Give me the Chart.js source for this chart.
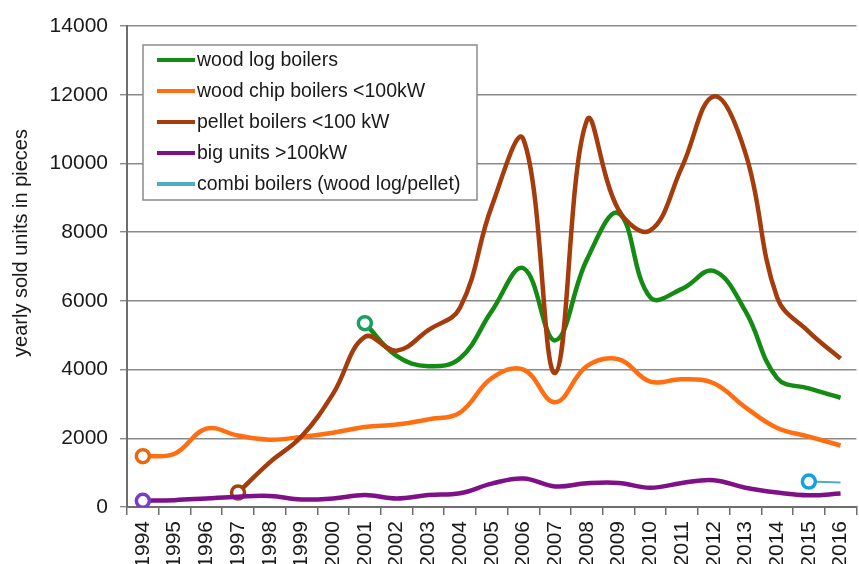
<!DOCTYPE html>
<html>
<head>
<meta charset="utf-8">
<script src="https://cdn.jsdelivr.net/npm/chart.js@4/dist/chart.umd.min.js"></script>
<style>
  html, body { margin: 0; padding: 0; background: #fff; overflow: hidden; width: 859px; height: 564px; }
  #wrap { position: absolute; left: 0; top: 0; width: 872px; height: 580px; }
</style>
</head>
<body>
<div id="wrap"><canvas id="c" width="872" height="580"></canvas></div>
<script>
// ---- data ----
const years = ['1994','1995','1996','1997','1998','1999','2000','2001','2002','2003','2004','2005',
               '2006','2007','2008','2009','2010','2011','2012','2013','2014','2015','2016'];
const woodLog  = [null,null,null,null,null,null,null,5350,4400,4100,4330,5700,6950,4850,7200,8550,6100,6350,6870,5700,3750,3450,3180];
const woodChip = [1480,1550,2280,2080,1960,2040,2160,2330,2400,2550,2750,3750,4000,3050,4100,4300,3650,3720,3600,2900,2300,2050,1790];
const pellet   = [null,null,null,420,1300,2050,3300,4950,4550,5150,5800,8750,10700,3900,11250,8650,8050,9900,11950,10300,6100,5100,4320];
const bigUnits = [180,200,250,300,320,220,250,350,250,350,400,680,830,600,690,700,560,700,780,560,420,340,390];
const combi    = [null,null,null,null,null,null,null,null,null,null,null,null,null,null,null,null,null,null,null,null,null,740,710];
const seriesNames = ['wood log boilers','wood chip boilers <100kW','pellet boilers <100 kW','big units >100kW','combi boilers (wood log/pellet)'];
const yTicks = [0,2000,4000,6000,8000,10000,12000,14000];
const yTitle = 'yearly sold units in pieces';

const FONT = "'Liberation Sans', Arial, sans-serif";
const lineColors  = ['#148c14','#ff6f12','#a43c0c','#7e1088','#4bacc6'];
const pointColors = ['#18a060','#e8680e','#a4400e','#7a3cc8','#14a0e4'];

function firstIdx(arr){ return arr.findIndex(v => v !== null); }
function mkDataset(i, data, order){
  const f = firstIdx(data);
  return {
    label: seriesNames[i],
    data: data,
    borderColor: lineColors[i],
    backgroundColor: lineColors[i],
    borderWidth: i === 4 ? 2 : 4.5,
    tension: 0.4,
    fill: false,
    spanGaps: false,
    order: order,
    pointRadius: ctx => ctx.dataIndex === f ? 6.5 : 0,
    pointBorderWidth: 3.5,
    pointBorderColor: pointColors[i],
    pointBackgroundColor: '#ffffff',
    pointHoverRadius: 0
  };
}

const legendPlugin = {
  id: 'boxLegend',
  afterDatasetsDraw(chart){
    const ctx = chart.ctx;
    ctx.save();
    const x0 = 143, y0 = 45, w = 334, h = 155;
    ctx.fillStyle = '#fff';
    ctx.fillRect(x0, y0, w, h);
    ctx.strokeStyle = '#8a8a8a';
    ctx.lineWidth = 1.5;
    ctx.strokeRect(x0, y0, w, h);
    ctx.font = '19.5px ' + FONT;
    ctx.textBaseline = 'middle';
    ctx.textAlign = 'left';
    chart.data.datasets.forEach((ds, i) => {
      const y = 60 + i * 31;
      ctx.strokeStyle = lineColors[i];
      ctx.lineWidth = 4;
      ctx.beginPath();
      ctx.moveTo(157, y);
      ctx.lineTo(195, y);
      ctx.stroke();
      ctx.fillStyle = '#1a1a1a';
      ctx.fillText(ds.label, 197, y + 1);
    });
    ctx.restore();
  }
};

const titlePlugin = {
  id: 'yTitle',
  afterDraw(chart){
    const ctx = chart.ctx;
    ctx.save();
    ctx.translate(21, 243);
    ctx.rotate(-Math.PI/2);
    ctx.font = '20px ' + FONT;
    ctx.fillStyle = '#1a1a1a';
    ctx.textAlign = 'center';
    ctx.textBaseline = 'middle';
    ctx.fillText(yTitle, 0, 0);
    ctx.restore();
  }
};

new Chart(document.getElementById('c'), {
  type: 'line',
  data: {
    labels: years,
    datasets: [
      mkDataset(0, woodLog, 5),
      mkDataset(1, woodChip, 4),
      mkDataset(2, pellet, 3),
      mkDataset(3, bigUnits, 2),
      mkDataset(4, combi, 1)
    ]
  },
  options: {
    responsive: false,
    animation: false,
    events: [],
    layout: { padding: { top: 26, right: 2, left: 0, bottom: 0 } },
    plugins: { legend: { display: false }, tooltip: { enabled: false } },
    scales: {
      x: {
        type: 'category',
        offset: true,
        grid: { offset: true, drawOnChartArea: false, drawTicks: true, tickLength: 8, color: '#6e6e6e', lineWidth: 1.5 },
        border: { display: true, color: '#6e6e6e', width: 2 },
        ticks: { autoSkip: false, minRotation: 90, maxRotation: 90, padding: 6, color: '#1a1a1a', font: { family: FONT, size: 21 } },
        afterFit(s){ s.height = 73; }
      },
      y: {
        min: 0, max: 14000,
        afterBuildTicks(s){ s.ticks = yTicks.map(v => ({ value: v })); },
        grid: { color: '#8a8a8a', lineWidth: 1.4, tickLength: 7, drawTicks: true },
        border: { display: true, color: '#6e6e6e', width: 2 },
        ticks: { padding: 12, color: '#1a1a1a', font: { family: FONT, size: 21 }, callback: v => String(v) },
        afterFit(s){ s.width = 127; }
      }
    }
  },
  plugins: [legendPlugin, titlePlugin]
});
</script>
</body>
</html>
